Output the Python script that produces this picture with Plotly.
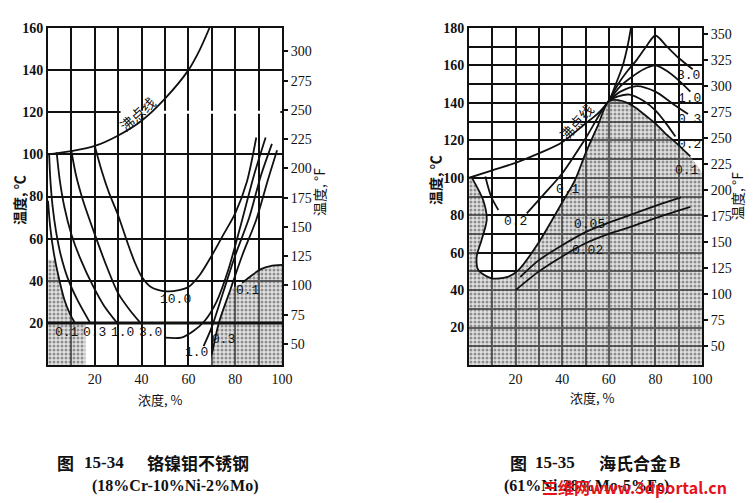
import plotly.graph_objects as go

W, H = 756, 503

# ---------------- data: left chart (18Cr-10Ni-2Mo stainless) ----------------
L_boil_x = [0, 10, 20, 30, 40, 50, 60, 65, 69]
L_boil_y = [100, 101.5, 104, 109, 116, 126.5, 140, 150, 160]

L01_x = [0, 1, 2.5, 4.5, 7, 9.5, 11.5]
L01_y = [78, 65, 53, 42, 31, 24, 20]
L03_x = [0.5, 1, 2, 3.5, 5.5, 8.5, 12.5, 18]
L03_y = [100, 88, 75, 63, 52, 41, 31, 20]
L10_x = [3.7, 5, 7, 10, 14, 19, 24, 29.5]
L10_y = [101, 88, 75, 62, 50, 38, 28, 20]
L30a_x = [10, 12, 15, 20, 25, 30, 35, 39.5]
L30a_y = [101.5, 90, 78, 62, 47, 34, 26, 20]
L30b_x = [50, 57, 62, 67, 72, 77, 83, 88, 93]
L30b_y = [13, 13, 16, 21, 30, 45, 69, 90, 108]
L100_x = [20, 23, 26, 30, 34, 37, 40, 44, 50, 56, 60, 65, 70, 75, 80, 85, 89]
L100_y = [104, 92, 82, 71, 58, 49, 42, 37, 35, 35.5, 37, 43, 52, 62, 72, 87, 108]
L1r_x = [66.5, 70, 75, 80, 86, 91, 95.7]
L1r_y = [9, 18, 35, 52, 70, 90, 105]
L03r_x = [70, 73, 78, 83, 89, 94, 97.9]
L03r_y = [5, 20, 36, 52, 69, 88, 102]
L01r_x = [83, 87, 91, 95, 100]
L01r_y = [39, 42.5, 45.5, 47, 47.5]

L_shadeA_x = [0, 0, 2.8, 4.5, 7, 9.5, 11.5, 16, 16]
L_shadeA_y = [0, 50, 50, 42, 31, 24, 20, 20, 0]
L_shadeB_x = [69.5, 70, 73, 78, 83, 87, 91, 95, 100, 100]
L_shadeB_y = [0, 5, 20, 36, 39, 42.5, 45.5, 47, 47.5, 0]

L_labels = ["0.1", "0.3", "1.0", "3.0", "10.0", "1.0", "0.3", "0.1"]
L_lab_x = [8, 20, 32, 44, 54.6, 63.5, 74.8, 85.5]
L_lab_y = [15.2, 15.2, 15.2, 15.2, 31, 5.7, 11.9, 35.6]

# ---------------- data: right chart (Hastelloy B) ----------------
R_boil_x = [0, 10, 20, 30, 40, 50, 55, 60, 63, 66, 68, 69.5]
R_boil_y = [100, 104, 108, 113, 119, 129, 134, 141, 150, 160, 170, 180]

R01_x = [1.4, 6.1, 7.6, 5.4, 3.3, 4, 9.7, 16.9, 21.2, 29.7, 39.8, 45.5, 50, 55, 60,
         64, 68, 72, 76, 80, 84, 89, 95]
R01_y = [99.7, 88, 77.5, 66.8, 57.9, 50.7, 46.3, 47.2, 50.7, 65, 86.4, 98.8, 113, 127, 141,
         141.5, 140, 137, 133, 129, 124, 118.5, 111.4]
R02a_x = [7, 9.5, 12.6]
R02a_y = [100.7, 90, 82.8]
R02b_x = [24.8, 32, 39.8, 50, 60, 64, 69, 75, 80, 84, 88.6]
R02b_y = [81, 91, 102, 121, 141, 143.5, 144.4, 141, 136, 130, 122]
R03_x = [60, 65, 72, 80, 88, 94]
R03_y = [141, 146, 149, 146, 139, 134]
R10_x = [60, 65, 70, 75, 80, 85, 90, 95]
R10_y = [141, 149, 154, 158, 160, 157, 152, 146]
R30_x = [60, 64, 68, 72, 76, 80, 85, 90, 96]
R30_y = [141, 150, 157, 163, 170, 176, 170, 164, 158]
R005_x = [22, 30, 40, 50, 60, 70, 80, 91]
R005_y = [47, 56, 64, 71, 76, 80.5, 85, 89.5]
R002_x = [20, 30, 40, 50, 60, 70, 80, 95]
R002_y = [40, 50, 58, 65, 70, 74, 78.5, 84.5]

R_shade_x = [0, 0] + R01_x + [100, 100]
R_shade_y = [0, 100] + R01_y + [103, 0]

R_labels = ["3.0", "1.0", "0.3", "0.2", "0.1", "0.1", "0.2", "0.05", "0.02"]
R_lab_x = [94.2, 94.8, 94.5, 94.5, 93.5, 42.5, 20, 51.5, 51]
R_lab_y = [154.4, 142.5, 131, 118, 104, 93.5, 76.5, 74.8, 61.4]

# ---------------- layout helpers ----------------
OFF = 8  # page body margin

def px_x(p):
    return (p - OFF) / W

def px_y(p):
    return 1 - (p - OFF) / H

LX0, LX1 = 48, 282
RX0, RX1 = 469, 702
Y0, Y1 = 28, 365

SERIF = "Liberation Serif"
CJK = "Noto Sans CJK SC"
INK = "#111111"

fig = go.Figure()

pattern = dict(shape=".", size=4, solidity=0.45, fgcolor="#3a3a3a", bgcolor="rgba(190,190,190,0.45)")

def shade(x, y, xa, ya):
    fig.add_trace(go.Scatter(x=x, y=y, xaxis=xa, yaxis=ya, mode="lines", fill="toself",
                             fillcolor="rgba(0,0,0,0)", fillpattern=pattern,
                             line=dict(width=0), hoverinfo="skip", showlegend=False))

def curve(x, y, xa, ya, w=1.8):
    fig.add_trace(go.Scatter(x=x, y=y, xaxis=xa, yaxis=ya, mode="lines",
                             line=dict(color=INK, width=w, shape="spline", smoothing=0.8),
                             hoverinfo="skip", showlegend=False))

# left chart
shade(L_shadeA_x, L_shadeA_y, "x", "y")
shade(L_shadeB_x, L_shadeB_y, "x", "y")
curve(L_boil_x, L_boil_y, "x", "y")
for xs, ys in [(L01_x, L01_y), (L03_x, L03_y), (L10_x, L10_y), (L30a_x, L30a_y),
               (L30b_x, L30b_y), (L100_x, L100_y), (L1r_x, L1r_y), (L03r_x, L03r_y),
               (L01r_x, L01r_y)]:
    curve(xs, ys, "x", "y")

# right chart
shade(R_shade_x, R_shade_y, "x2", "y3")
curve(R_boil_x, R_boil_y, "x2", "y3")
for xs, ys in [(R01_x, R01_y), (R02a_x, R02a_y), (R02b_x, R02b_y), (R03_x, R03_y),
               (R10_x, R10_y), (R30_x, R30_y), (R005_x, R005_y), (R002_x, R002_y)]:
    curve(xs, ys, "x2", "y3")

# dummy traces so the °F axes render
fig.add_trace(go.Scatter(x=[None], y=[None], xaxis="x", yaxis="y2", showlegend=False))
fig.add_trace(go.Scatter(x=[None], y=[None], xaxis="x2", yaxis="y4", showlegend=False))

tickfont = dict(family=SERIF, size=14, color=INK)
axline = dict(showline=True, linecolor=INK, linewidth=2, mirror=True, zeroline=False,
              automargin=False)
grid = dict(showgrid=True, gridcolor=INK, gridwidth=1.5)

fig.update_layout(
    width=W, height=H, margin=dict(l=0, r=0, t=0, b=0, autoexpand=False),
    paper_bgcolor="white", plot_bgcolor="white", showlegend=False,
    xaxis=dict(domain=[px_x(LX0), px_x(LX1)], range=[0, 100], tickvals=[20, 40, 60, 80, 100],
               ticks="", tickfont=tickfont, anchor="y",
               minor=dict(dtick=10, tick0=0, showgrid=True, gridcolor=INK, gridwidth=1.5),
               **grid, **axline),
    yaxis=dict(domain=[px_y(Y1), px_y(Y0)], range=[0, 160], tickvals=list(range(20, 161, 20)),
               ticks="", tickfont=dict(family=SERIF, size=14, color=INK, weight="bold"),
               anchor="x", **grid, **axline),
    yaxis2=dict(overlaying="y", side="right", anchor="x", range=[32, 320],
                tickvals=list(range(50, 301, 25)), ticks="outside", ticklen=5, tickwidth=1.5,
                tickcolor=INK, tickfont=tickfont, showgrid=False, zeroline=False,
                automargin=False),
    xaxis2=dict(domain=[px_x(RX0), px_x(RX1)], range=[0, 100], tickvals=[20, 40, 60, 80, 100],
                ticks="", tickfont=tickfont, anchor="y3",
                minor=dict(dtick=10, tick0=0, showgrid=True, gridcolor=INK, gridwidth=1.5),
                **grid, **axline),
    yaxis3=dict(domain=[px_y(Y1), px_y(Y0)], range=[0, 180], tickvals=list(range(20, 181, 20)),
                ticks="", tickfont=dict(family=SERIF, size=14, color=INK, weight="bold"),
                anchor="x2",
                minor=dict(dtick=10, tick0=0, showgrid=True, gridcolor=INK, gridwidth=1.5),
                **grid, **axline),
    yaxis4=dict(overlaying="y3", side="right", anchor="x2", range=[32, 356],
                tickvals=list(range(50, 351, 25)), ticks="outside", ticklen=5, tickwidth=1.5,
                tickcolor=INK, tickfont=tickfont, showgrid=False, zeroline=False,
                automargin=False),
)

# thick 20 °C line on the left chart; gap in the 120 °C grid line as printed
fig.add_shape(type="line", xref="x", yref="y", x0=0, x1=100, y0=20, y1=20,
              line=dict(color=INK, width=3))
fig.add_shape(type="line", xref="x", yref="y", x0=31, x1=99.3, y0=120, y1=120,
              line=dict(color="white", width=3), layer="between")

lab_font = dict(family="Liberation Mono", size=13, color=INK)
for t, x, y in zip(L_labels, L_lab_x, L_lab_y):
    fig.add_annotation(x=x, y=y, xref="x", yref="y", text=t, showarrow=False, font=lab_font)
for t, x, y in zip(R_labels, R_lab_x, R_lab_y):
    fig.add_annotation(x=x, y=y, xref="x2", yref="y3", text=t, showarrow=False, font=lab_font)

fig.add_annotation(x=38, y=119.4, xref="x", yref="y", text="沸点线", showarrow=False,
                   textangle=-42, font=dict(family=CJK, size=14, color=INK))
fig.add_annotation(x=46, y=130, xref="x2", yref="y3", text="沸点线", showarrow=False,
                   textangle=-48, font=dict(family=CJK, size=14, color=INK))

def ptext(x, y, text, font, angle=0, xanchor="center"):
    fig.add_annotation(x=px_x(x), y=px_y(y), xref="paper", yref="paper", text=text,
                       showarrow=False, font=font, textangle=angle, xanchor=xanchor,
                       yanchor="middle")

cjk = dict(family=CJK, size=14, color=INK)
ptext(19, 200, "<b>温度, ℃</b>", cjk, -90)
ptext(319, 192, "温度, °F", cjk, -90)
ptext(160, 399, "浓度, %", dict(family=CJK, size=13, color=INK))
ptext(435, 180, "<b>温度, ℃</b>", cjk, -90)
ptext(737, 196, "温度, °F", cjk, -90)
ptext(592, 397, "浓度, %", dict(family=CJK, size=13, color=INK))

cap = dict(family=CJK, size=17, color=INK)
capn = dict(family=SERIF, size=17, color=INK)
sub = dict(family=SERIF, size=16, color=INK)
ptext(55, 462, "<b>图</b>", cap, xanchor="left")
ptext(82, 462, "<b>15-34</b>", capn, xanchor="left")
ptext(145, 462, "<b>铬镍钼不锈钢</b>", cap, xanchor="left")
ptext(90, 486, "<b>(18%Cr-10%Ni-2%Mo)</b>", sub, xanchor="left")
ptext(508, 462, "<b>图</b>", cap, xanchor="left")
ptext(533, 462, "<b>15-35</b>", capn, xanchor="left")
ptext(597, 462, "<b>海氏合金</b>", cap, xanchor="left")
ptext(667, 462, "<b>B</b>", capn, xanchor="left")
ptext(502, 486, "<b>(61%Ni-28%Mo-5%Fe)</b>", sub, xanchor="left")
ptext(540, 487, "<b>三维网www.3dportal.cn</b>",
      dict(family=CJK, size=16, color="#e3141b"), xanchor="left")

fig.write_html("out.html")
